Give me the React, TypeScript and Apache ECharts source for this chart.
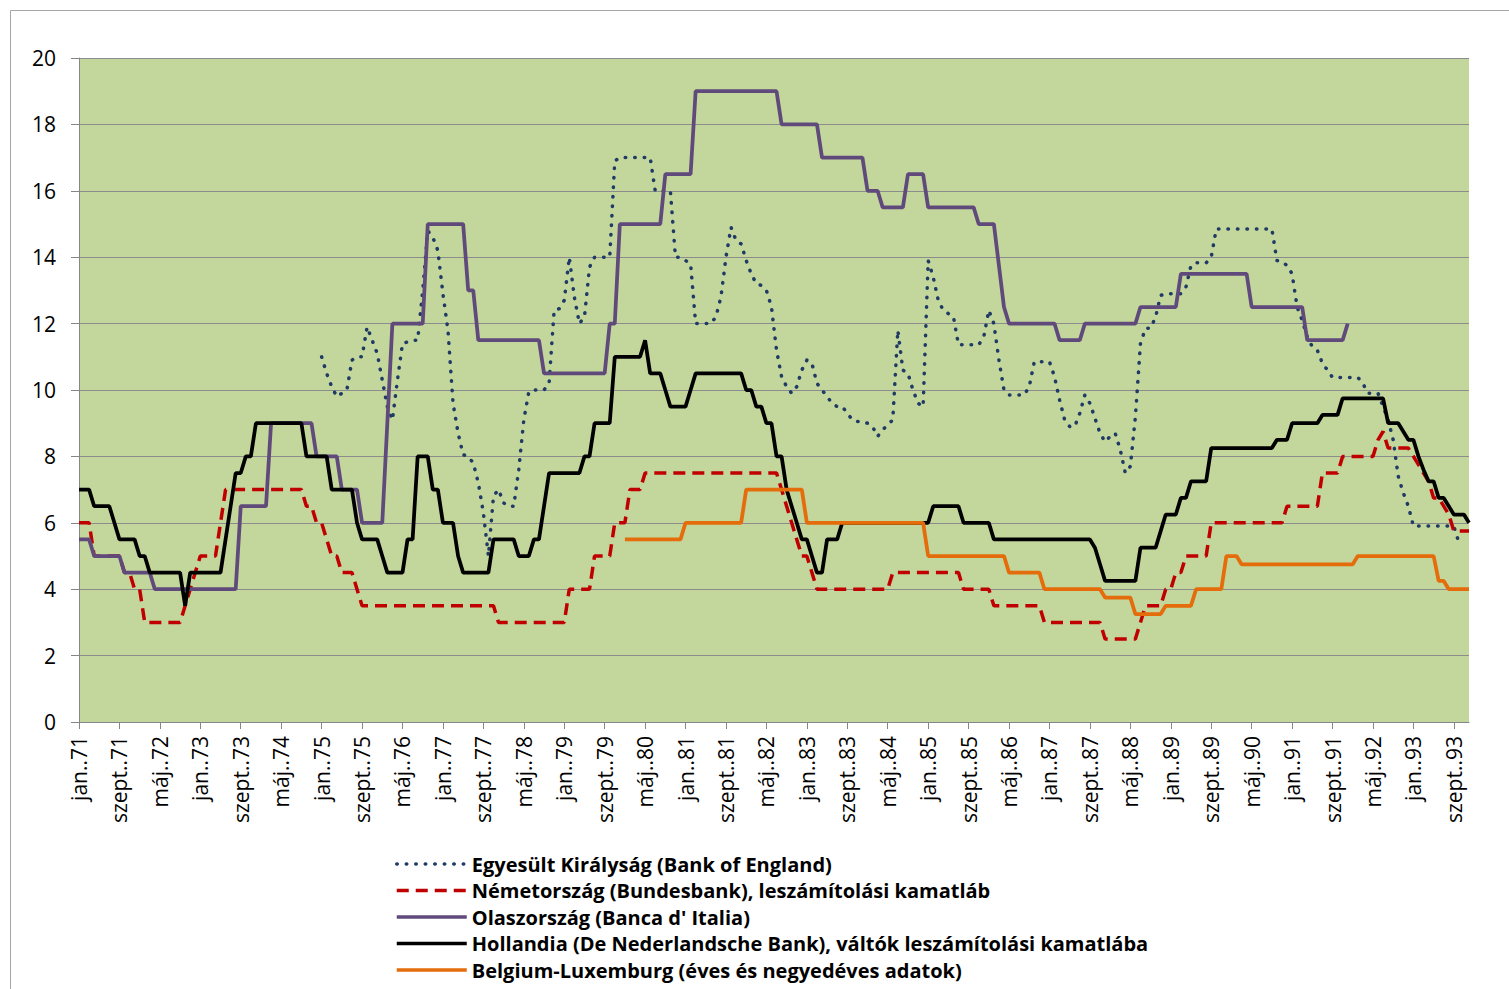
import React, { useEffect, useRef } from 'react';
import * as echarts from 'echarts';

// Month names and years for the category axis
const monthAbbr = ['jan.', 'febr.', 'márc.', 'ápr.', 'máj.', 'jún.', 'júl.', 'aug.', 'szept.', 'okt.', 'nov.', 'dec.'];
const years = ['71', '72', '73', '74', '75', '76', '77', '78', '79', '80', '81', '82', '83', '84', '85', '86', '87', '88', '89', '90', '91', '92', '93'];

// Each list: [month index from jan.71, value] — value holds until the next entry
const ukRuns: [number, number | null][] = [
  [0, null], [48, 11.0], [49, 10.5], [50, 10.1], [51, 9.8], [52, 9.9], [53, 10.0], [54, 10.9], [55, 11.0], [57, 11.9], [58, 11.5],
  [59, 11.1], [60, 10.3], [61, 9.5], [62, 9.1], [63, 10.3], [64, 11.4], [65, 11.45], [66, 11.5], [68, 13.0], [69, 14.8], [70, 14.6],
  [71, 14.2], [72, 12.9], [73, 11.8], [74, 9.6], [75, 8.7], [76, 8.05], [77, 8.0], [78, 7.8], [79, 7.2], [80, 6.3], [81, 5.0],
  [82, 6.8], [83, 7.0], [84, 6.6], [85, 6.5], [87, 7.6], [88, 9.1], [89, 9.95], [90, 10.0], [93, 10.2], [94, 12.4], [95, 12.45],
  [96, 12.7], [97, 14.0], [98, 12.8], [99, 12.0], [100, 12.2], [101, 13.7], [102, 14.0], [106, 16.9], [107, 17.0], [114, 16.0],
  [118, 14.0], [120, 13.9], [121, 13.8], [122, 12.0], [126, 12.2], [127, 12.8], [128, 14.0], [129, 14.9], [130, 14.5], [131, 14.4],
  [132, 13.9], [133, 13.5], [134, 13.2], [135, 13.15], [136, 13.0], [137, 12.5], [138, 11.2], [139, 10.4], [140, 10.1], [141, 9.9],
  [142, 10.1], [143, 10.6], [144, 10.9], [145, 10.8], [146, 10.2], [147, 10.0], [148, 9.8], [149, 9.6], [150, 9.5], [152, 9.3],
  [153, 9.1], [154, 9.05], [156, 9.0], [157, 8.9], [158, 8.6], [159, 8.8], [160, 8.95], [161, 9.1], [162, 11.8], [163, 10.6],
  [164, 10.5], [165, 10.0], [166, 9.6], [167, 9.5], [168, 13.9], [169, 13.4], [170, 12.7], [171, 12.4], [172, 12.3], [173, 12.2],
  [174, 11.36], [179, 11.6], [180, 12.4], [181, 12.0], [182, 10.9], [183, 10.0], [184, 9.85], [188, 10.1], [189, 10.85], [193, 10.4],
  [194, 9.7], [195, 9.1], [196, 8.9], [198, 9.3], [199, 9.85], [200, 9.6], [201, 9.15], [202, 8.7], [203, 8.44], [204, 8.6],
  [205, 8.7], [206, 8.2], [207, 7.5], [208, 7.7], [209, 9.2], [210, 11.4], [211, 11.86], [213, 12.2], [214, 12.85], [215, 12.9],
  [219, 13.1], [220, 13.75], [221, 13.83], [224, 14.0], [225, 14.85], [237, 13.9], [238, 13.87], [239, 13.75], [240, 13.5],
  [241, 12.5], [242, 12.1], [243, 11.6], [244, 11.3], [245, 11.2], [246, 10.8], [247, 10.6], [248, 10.38], [254, 10.2], [255, 9.9],
  [258, 9.5], [259, 9.1], [260, 8.5], [261, 7.4], [262, 6.9], [263, 6.5], [264, 5.9], [273, 5.4], [274, null],
];

const deRuns: [number, number | null][] = [
  [0, 6], [3, 5], [9, 4.5], [11, 4], [13, 3], [21, 3.5], [22, 4], [23, 4.5], [24, 5], [28, 6], [29, 7], [45, 6.5], [47, 6],
  [49, 5.5], [50, 5], [52, 4.5], [55, 4], [56, 3.5], [83, 3], [97, 4], [102, 5], [106, 6], [109, 7], [112, 7.5], [139, 7],
  [140, 6.5], [141, 6], [142, 5.5], [143, 5], [145, 4.5], [146, 4], [161, 4.5], [175, 4], [181, 3.5], [191, 3], [203, 2.5],
  [210, 3], [211, 3.5], [215, 4], [217, 4.5], [219, 5], [224, 6], [239, 6.5], [246, 7.5], [250, 8], [257, 8.5], [258, 8.75],
  [259, 8.25], [264, 8], [265, 7.75], [266, 7.5], [267, 7.25], [268, 6.75], [270, 6.5], [271, 6.25], [272, 5.75],
];

const itRuns: [number, number | null][] = [
  [0, 5.5], [3, 5], [9, 4.5], [15, 4], [32, 6.5], [38, 9], [47, 8], [52, 7], [56, 6], [61, 9], [62, 12], [69, 15], [77, 13],
  [79, 11.5], [92, 10.5], [105, 12], [107, 15], [116, 16.5], [122, 19], [139, 18], [147, 17], [156, 16], [159, 15.5], [164, 16.5],
  [168, 15.5], [178, 15], [182, 13.75], [183, 12.5], [184, 12], [194, 11.5], [199, 12], [210, 12.5], [218, 13.5], [232, 12.5],
  [243, 11.5], [251, 12], [252, null],
];

const nlRuns: [number, number | null][] = [
  [0, 7], [3, 6.5], [7, 6], [8, 5.5], [12, 5], [14, 4.5], [21, 3.5], [22, 4.5], [29, 5.5], [30, 6.5], [31, 7.5], [33, 8], [35, 9],
  [45, 8], [50, 7], [55, 6], [56, 5.5], [60, 5], [61, 4.5], [65, 5.5], [67, 8], [70, 7], [72, 6], [75, 5], [76, 4.5], [82, 5.5],
  [87, 5], [90, 5.5], [92, 6.5], [93, 7.5], [100, 8], [102, 9], [106, 11], [112, 11.5], [113, 10.5], [116, 10], [117, 9.5],
  [121, 10], [122, 10.5], [132, 10], [134, 9.5], [136, 9], [138, 8], [140, 7], [141, 6.5], [142, 6], [143, 5.5], [145, 5],
  [146, 4.5], [148, 5.5], [151, 6], [169, 6.5], [175, 6], [181, 5.5], [201, 5.25], [202, 4.75], [203, 4.25], [210, 5.25],
  [214, 5.75], [215, 6.25], [218, 6.75], [220, 7.25], [224, 8.25], [237, 8.5], [240, 9], [246, 9.25], [250, 9.75], [259, 9],
  [262, 8.75], [263, 8.5], [265, 8], [266, 7.6], [267, 7.25], [269, 6.75], [271, 6.5], [272, 6.25], [275, 6],
];

const beRuns: [number, number | null][] = [
  [0, null], [108, 5.5], [120, 6], [132, 7], [144, 6], [168, 5], [184, 4.5], [191, 4], [203, 3.75], [209, 3.25], [215, 3.5],
  [221, 4], [227, 5], [230, 4.75], [253, 5], [269, 4.25], [271, 4],
];

const seriesNames = [
  'Egyesült Királyság (Bank of England)',
  'Németország (Bundesbank), leszámítolási kamatláb',
  "Olaszország (Banca d' Italia)",
  'Hollandia (De Nederlandsche Bank), váltók leszámítolási kamatlába',
  'Belgium-Luxemburg (éves és negyedéves adatok)',
];

const categories: string[] = [];
years.forEach((y) => monthAbbr.forEach((m) => categories.push(`${m}.${y}`)));
const N = categories.length;

function expand(runs: [number, number | null][]): (number | null)[] {
  const out: (number | null)[] = [];
  let k = 0;
  let cur: number | null = null;
  for (let i = 0; i < N; i++) {
    while (k < runs.length && runs[k][0] <= i) {
      cur = runs[k][1];
      k++;
    }
    out.push(cur);
  }
  return out;
}

export default function App() {
  const ref = useRef<HTMLDivElement>(null);
  useEffect(() => {
    const chart = echarts.init(ref.current!, null, { renderer: 'svg' });
    const font = 'Open Sans';
    const axisGray = '#868686';
    chart.setOption({
      animation: false,
      backgroundColor: '#ffffff',
      textStyle: { fontFamily: font },
      graphic: [
        {
          type: 'rect',
          silent: true,
          shape: { x: 10.5, y: 10.5, width: 1700, height: 1200 },
          style: { fill: 'none', stroke: '#A6A6A6', lineWidth: 1 },
        },
      ],
      grid: { left: 79, top: 58, width: 1390, height: 664, show: true, backgroundColor: '#C3D69B', borderWidth: 0 },
      xAxis: {
        type: 'category',
        data: categories,
        boundaryGap: false,
        axisLine: { lineStyle: { color: axisGray, width: 1 } },
        axisTick: { show: true, interval: 7, length: 7, lineStyle: { color: axisGray } },
        axisLabel: { interval: 7, rotate: 90, margin: 14, fontSize: 21, color: '#000', fontFamily: font },
        splitLine: { show: false },
      },
      yAxis: {
        type: 'value',
        min: 0,
        max: 20,
        interval: 2,
        axisLine: { show: true, lineStyle: { color: axisGray, width: 1 } },
        axisTick: { show: true, length: 8, lineStyle: { color: axisGray } },
        axisLabel: { margin: 23, fontSize: 21, color: '#000', fontFamily: font },
        splitLine: { show: true, lineStyle: { color: '#8C8C8C', width: 1 } },
      },
      legend: {
        orient: 'vertical',
        left: 395,
        bottom: 9,
        padding: 0,
        itemWidth: 70,
        itemHeight: 14,
        itemGap: 6.5,
        data: seriesNames,
        lineStyle: { width: 3.5 },
        itemStyle: { opacity: 0 },
        textStyle: { fontFamily: font, fontSize: 20, fontWeight: 'bold', color: '#000' },
      },
      series: [
        {
          name: seriesNames[0],
          type: 'line',
          data: expand(ukRuns),
          symbol: 'none',
          connectNulls: false,
          itemStyle: { color: '#1F3A64' },
          lineStyle: { color: '#1F3A64', width: 3.5, type: [0.5, 9], cap: 'round' },
        },
        {
          name: seriesNames[1],
          type: 'line',
          data: expand(deRuns),
          symbol: 'none',
          itemStyle: { color: '#C00000' },
          lineStyle: { color: '#C00000', width: 3.5, type: [12, 7] },
        },
        {
          name: seriesNames[2],
          type: 'line',
          data: expand(itRuns),
          symbol: 'none',
          connectNulls: false,
          itemStyle: { color: '#604A7B' },
          lineStyle: { color: '#604A7B', width: 3.75 },
        },
        {
          name: seriesNames[3],
          type: 'line',
          data: expand(nlRuns),
          symbol: 'none',
          itemStyle: { color: '#000000' },
          lineStyle: { color: '#000000', width: 3.75 },
        },
        {
          name: seriesNames[4],
          type: 'line',
          data: expand(beRuns),
          symbol: 'none',
          connectNulls: false,
          itemStyle: { color: '#E46C0A' },
          lineStyle: { color: '#E46C0A', width: 3.75 },
        },
      ],
    });
    return () => chart.dispose();
  }, []);
  return (
    <div
      ref={ref}
      style={{ position: 'fixed', left: 0, top: 0, width: 1509, height: 989, background: '#ffffff' }}
    />
  );
}
